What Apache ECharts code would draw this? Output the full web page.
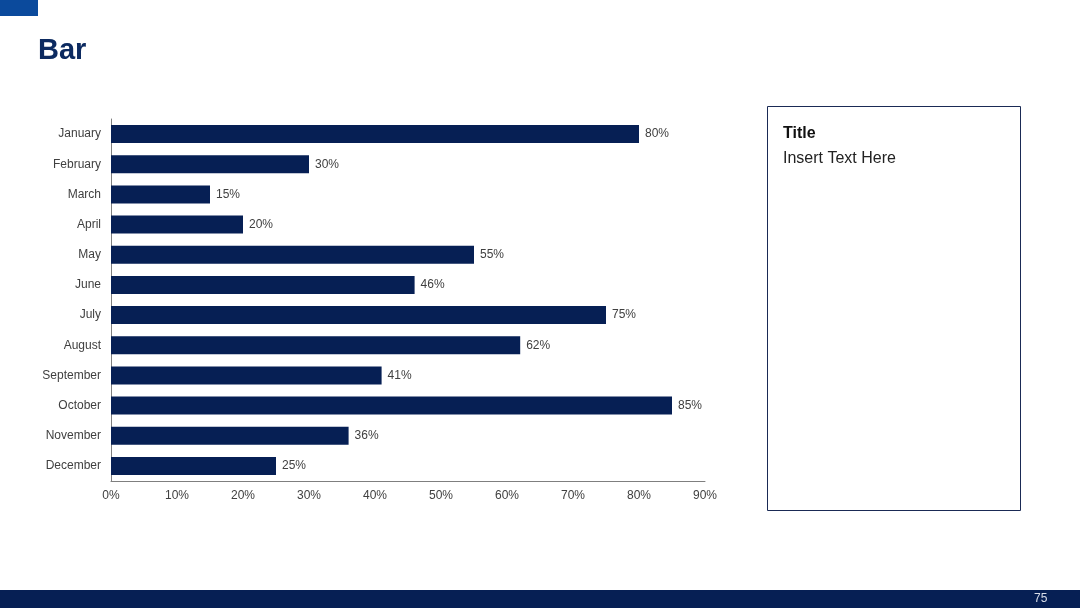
<!DOCTYPE html>
<html>
<head>
<meta charset="utf-8">
<script src="https://cdn.jsdelivr.net/npm/echarts@6/dist/echarts.min.js"></script>
<style>html,body{margin:0;padding:0;background:#fff;}#c{width:1080px;height:608px;}</style>
</head>
<body>
<div id="c"></div>
<script>
const categories = ['January','February','March','April','May','June','July','August','September','October','November','December'];
const values = [80,30,15,20,55,46,75,62,41,85,36,25];
const xTicks = [0,10,20,30,40,50,60,70,80,90];
const pageTitle = 'Bar';
const boxTitle = 'Title';
const boxText = 'Insert Text Here';
const pageNumber = '75';

const chart = echarts.init(document.getElementById('c'));
const font = 'Liberation Sans, Arial, sans-serif';
chart.setOption({
  animation: false,
  textStyle: { fontFamily: font },
  grid: { left: 111, top: 119, width: 594, height: 362, containLabel: false },
  xAxis: {
    type: 'value', min: xTicks[0], max: xTicks[xTicks.length-1], interval: 10,
    axisLine: { show: true, lineStyle: { color: '#7f7f7f', width: 1 } },
    axisTick: { show: false },
    splitLine: { show: false },
    axisLabel: { formatter: '{value}%', color: '#404040', fontSize: 12, margin: 9, fontFamily: font }
  },
  yAxis: {
    type: 'category', data: categories, inverse: true,
    axisLine: { show: true, lineStyle: { color: '#7f7f7f', width: 1 } },
    axisTick: { show: false },
    axisLabel: { color: '#404040', fontSize: 12, margin: 10, fontFamily: font }
  },
  series: [{
    type: 'bar', data: values, barWidth: 18,
    itemStyle: { color: '#061f54' },
    label: { show: true, position: 'right', formatter: '{c}%', color: '#404040', fontSize: 12, distance: 6, fontFamily: font }
  }],
  graphic: [
    { type: 'rect', shape: { x: 0, y: 0, width: 38, height: 16 }, style: { fill: '#0b4a9c' } },
    { type: 'text', left: 38, top: 36, style: { text: pageTitle, fill: '#0c2a60', font: 'bold 29px ' + font } },
    { type: 'rect', shape: { x: 767.5, y: 106.5, width: 253, height: 404 }, style: { fill: '#fff', stroke: '#1a2a55', lineWidth: 1 } },
    { type: 'text', left: 783, top: 126, style: { text: boxTitle, fill: '#111', font: 'bold 16px ' + font } },
    { type: 'text', left: 783, top: 151, style: { text: boxText, fill: '#222', font: '16px ' + font } },
    { type: 'rect', shape: { x: 0, y: 590, width: 1080, height: 18 }, style: { fill: '#061f54' } },
    { type: 'text', left: 1034, top: 593, style: { text: pageNumber, fill: '#d8dde8', font: '12px ' + font } }
  ]
});
</script>
</body>
</html>
